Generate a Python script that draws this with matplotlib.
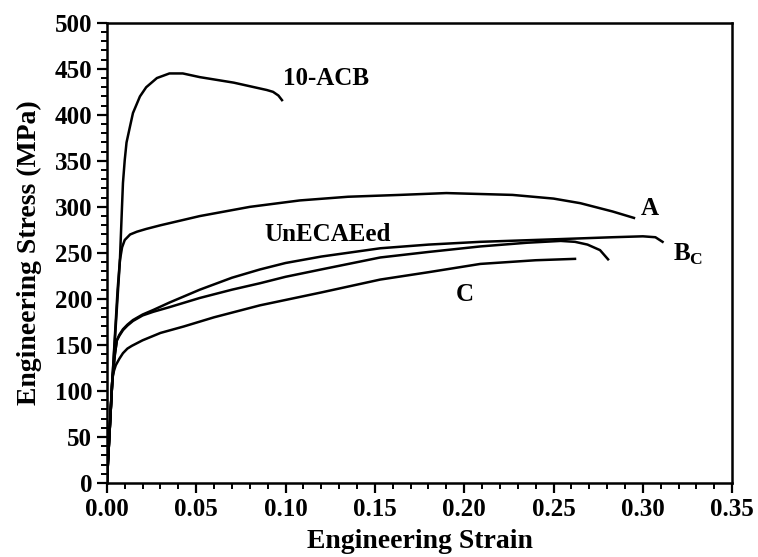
import matplotlib

matplotlib.use("Agg")
import matplotlib.pyplot as plt
from matplotlib.ticker import MultipleLocator

# strain / stress pairs
acb_strain = [0.0, 0.003, 0.0073, 0.0084, 0.009, 0.010, 0.011, 0.0129, 0.0146, 0.0185,
              0.022, 0.028, 0.035, 0.0425, 0.052, 0.071, 0.0895, 0.093, 0.096, 0.098]
acb_stress = [0, 110, 242, 297, 326, 351, 370, 387, 402, 420,
              430, 440, 445, 445, 441, 435, 427, 425, 421, 416]

a_strain = [0.0, 0.003, 0.006, 0.0073, 0.0085, 0.010, 0.013, 0.0168, 0.022, 0.03,
            0.052, 0.08, 0.108, 0.135, 0.164, 0.19, 0.227, 0.25, 0.265, 0.283, 0.295]
a_stress = [0, 110, 210, 242, 256, 264, 270, 273, 276, 280,
            290, 300, 307, 311, 313, 315, 313, 309, 304, 295, 288]

bc_strain = [0.0, 0.003, 0.0045, 0.0056, 0.007, 0.009, 0.0115, 0.0146, 0.02, 0.026,
             0.035, 0.052, 0.07, 0.0857, 0.10, 0.12, 0.153, 0.18, 0.209, 0.254,
             0.283, 0.300, 0.307, 0.311]
bc_stress = [0, 110, 140, 155, 161, 167, 172, 177, 183, 188,
             196, 210, 223, 232, 239, 246, 255, 259, 262, 265,
             267, 268, 267, 262]

un_strain = [0.0, 0.003, 0.0045, 0.0056, 0.007, 0.009, 0.0115, 0.0146, 0.02, 0.026,
             0.035, 0.052, 0.07, 0.0857, 0.10, 0.12, 0.153, 0.18, 0.209, 0.235,
             0.254, 0.262, 0.269, 0.276, 0.2805]
un_stress = [0, 110, 140, 155, 160, 166, 171, 176, 182, 186,
             191, 201, 210, 217, 224, 232, 245, 251, 257, 261,
             263, 262, 259, 253, 243]

c_strain = [0.0, 0.003, 0.0034, 0.004, 0.005, 0.007, 0.009, 0.0115, 0.014, 0.020,
            0.025, 0.030, 0.043, 0.06, 0.0857, 0.12, 0.153, 0.18, 0.209, 0.24, 0.262]
c_stress = [0, 110, 117, 122, 128, 135, 141, 146, 149, 155,
            159, 163, 170, 180, 193, 207, 221, 229, 238, 242, 243.5]

curves = [
    (acb_strain, acb_stress),
    (a_strain, a_stress),
    (bc_strain, bc_stress),
    (un_strain, un_stress),
    (c_strain, c_stress),
]

# curve labels: text, strain, stress
labels = [
    ("10-ACB", 0.0985, 440),
    ("A", 0.299, 298),
    ("B$_\\mathbf{C}$", 0.317, 248),
    ("UnECAEed", 0.088, 270),
    ("C", 0.195, 205),
]


def main():
    plt.rcParams["font.family"] = ["Liberation Serif", "DejaVu Serif"]
    plt.rcParams["font.weight"] = "bold"
    plt.rcParams["mathtext.fontset"] = "custom"
    plt.rcParams["mathtext.rm"] = "Liberation Serif:bold"
    plt.rcParams["mathtext.bf"] = "Liberation Serif:bold"

    fig = plt.figure(figsize=(7.58, 5.57), dpi=100)
    ax = fig.add_axes([0.141, 0.133, 0.825, 0.826])

    for x, y in curves:
        ax.plot(x, y, color="black", linewidth=1.8, solid_joinstyle="round")

    for text, x, y in labels:
        ax.text(x, y, text, fontsize=18, fontweight="bold", va="center", ha="left")

    ax.set_xlim(0, 0.35)
    ax.set_ylim(0, 500)
    ax.xaxis.set_major_locator(MultipleLocator(0.05))
    ax.xaxis.set_minor_locator(MultipleLocator(0.01))
    ax.yaxis.set_major_locator(MultipleLocator(50))
    ax.yaxis.set_minor_locator(MultipleLocator(10))
    ax.xaxis.set_major_formatter(plt.FuncFormatter(lambda v, p: f"{v:.2f}"))

    ax.tick_params(which="major", direction="out", length=7.5, width=1.6,
                   labelsize=18, pad=3)
    ax.tick_params(which="minor", direction="out", length=4.5, width=1.4)
    for lbl in ax.get_xticklabels() + ax.get_yticklabels():
        lbl.set_fontweight("bold")
    for s in ax.spines.values():
        s.set_linewidth(1.8)

    ax.set_xlabel("Engineering Strain", fontsize=20, fontweight="bold", labelpad=6)
    ax.set_ylabel("Engineering Stress (MPa)", fontsize=20, fontweight="bold", labelpad=9)

    fig.savefig("out.png", dpi=100)


if __name__ == "__main__":
    main()
